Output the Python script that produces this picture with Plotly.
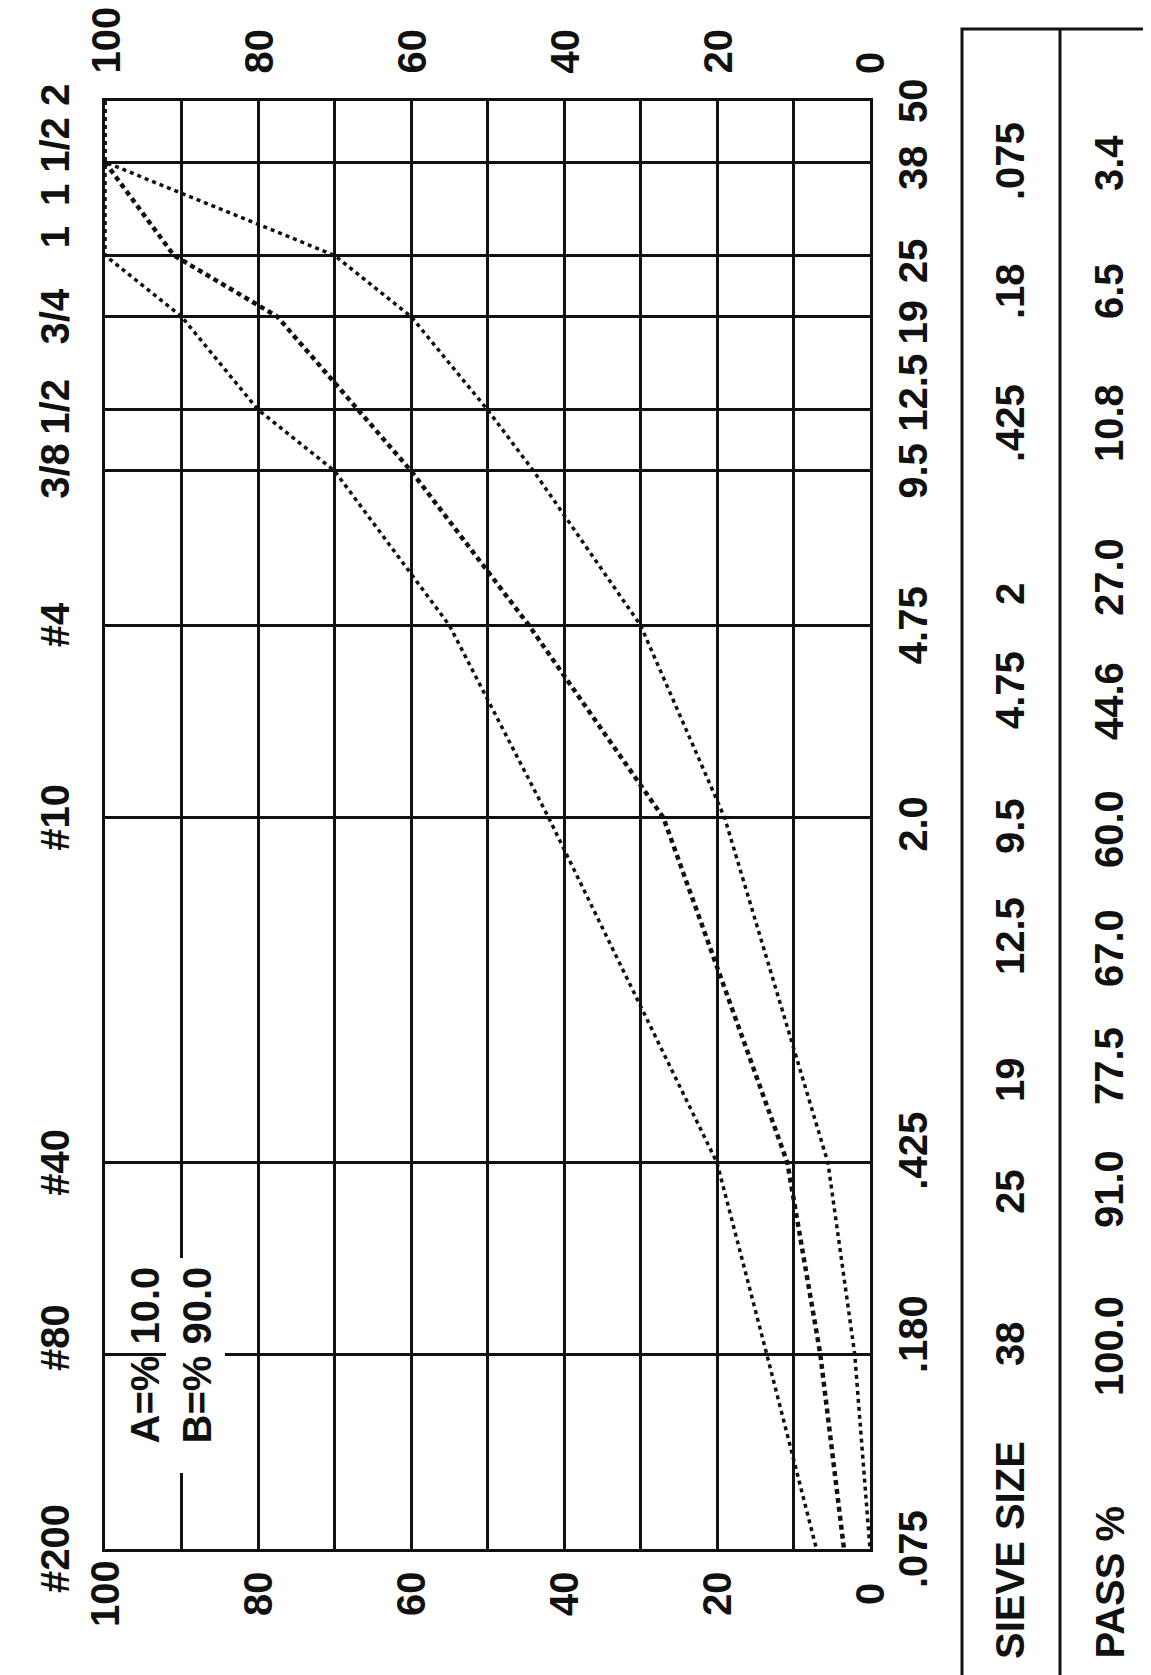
import math
import plotly.graph_objects as go

# ---------------- data ----------------
# sieve openings (mm) used for the chart grid, coarse -> fine
GRID_MM = [50, 38, 25, 19, 12.5, 9.5, 4.75, 2.0, 0.425, 0.18, 0.075]
GRID_LABEL_US = ["2", "1 1/2", "1", "3/4", "1/2", "3/8", "#4", "#10", "#40", "#80", "#200"]
GRID_LABEL_MM = ["50", "38", "25", "19", "12.5", "9.5", "4.75", "2.0", ".425", ".180", ".075"]

# combined gradation (table)
SIEVE_MM = [38, 25, 19, 12.5, 9.5, 4.75, 2.0, 0.425, 0.18, 0.075]
SIEVE_TEXT = ["38", "25", "19", "12.5", "9.5", "4.75", "2", ".425", ".18", ".075"]
PASS_PCT = [100.0, 91.0, 77.5, 67.0, 60.0, 44.6, 27.0, 10.8, 6.5, 3.4]

# specification band (on GRID_MM sieves)
UPPER_LIMIT = [100, 100, 100, 90, 80, 70, 55, 42, 20, 13.5, 7]
LOWER_LIMIT = [100, 100, 70, 60, 50, 44, 30, 19, 5.5, 2, 0]

PCT_TICKS = [100, 80, 60, 40, 20, 0]
BLEND_TEXT = ["A=% 10.0", "B=% 90.0"]

# ---------------- layout constants (pixels) ----------------
W, H = 1151, 1675
PLOT_L, PLOT_R, PLOT_T, PLOT_B = 97, 862, 93, 1541
TAB_L, TAB_M, TAB_R, TAB_T, TAB_B = 954, 1052, 1147, 21, 1673
LEFT_LABEL_X = 47
RIGHT_LABEL_X = 905
LEFT_LABEL_SHIFT = [6, 0, 18, 0, 3, 0, 0, 0, 0, 16, 0]
RIGHT_LABEL_SHIFT = [0, -6, -6, -6, 17, 0, 0, -6, 12, 20, 0]
TOP_LABEL_BASE = 68
BOTTOM_LABEL_MID = 1586
TAB_COL1_X, TAB_COL2_X = 1002, 1101
TAB_HEAD_BASE = 1653
TAB_SIEVE_Y = [1336, 1184, 1072, 928, 818, 682, 586, 415, 283, 153]
TAB_PASS_Y = [1338, 1181, 1058, 940, 821, 693, 569, 415, 283, 155]
BLEND_X = [136, 188]
BLEND_BASE = 1438
GAP_BOX = (158, 217, 1250, 1465)

FONT = "Liberation Sans, Arial, sans-serif"
FS = 40
INK = "#111111"


def px(x):
    return x / W


def py(y):
    return 1 - y / H


fig = go.Figure()

fig.add_trace(go.Scatter(
    x=UPPER_LIMIT, y=GRID_MM, mode="lines",
    line=dict(color=INK, width=3.5, dash="4px,4px"), showlegend=False, hoverinfo="skip"))
fig.add_trace(go.Scatter(
    x=LOWER_LIMIT, y=GRID_MM, mode="lines",
    line=dict(color=INK, width=3.5, dash="4px,4px"), showlegend=False, hoverinfo="skip"))
fig.add_trace(go.Scatter(
    x=PASS_PCT, y=SIEVE_MM, mode="lines",
    line=dict(color=INK, width=4.5, dash="5px,4px"), showlegend=False, hoverinfo="skip"))

annotations = []


def txt(text, **kw):
    d = dict(text="<b>%s</b>" % text, showarrow=False, textangle=-90,
             font=dict(family=FONT, size=FS, color=INK))
    d.update(kw)
    annotations.append(d)


# left (US sieve) labels and right (mm) labels
for mm, us, lab, sl, sr in zip(GRID_MM, GRID_LABEL_US, GRID_LABEL_MM,
                               LEFT_LABEL_SHIFT, RIGHT_LABEL_SHIFT):
    txt(us, xref="paper", x=px(LEFT_LABEL_X), yref="y", y=math.log10(mm),
        xanchor="center", yanchor="middle", yshift=sl)
    txt(lab, xref="paper", x=px(RIGHT_LABEL_X), yref="y", y=math.log10(mm),
        xanchor="center", yanchor="middle", yshift=sr)

# percent labels top & bottom
for p in PCT_TICKS:
    txt(str(p), xref="x", x=p, yref="paper", y=py(TOP_LABEL_BASE),
        xanchor="center", yanchor="bottom")
    txt(str(p), xref="x", x=p, yref="paper", y=py(BOTTOM_LABEL_MID),
        xanchor="center", yanchor="middle")

# blend proportions
for bx, bt in zip(BLEND_X, BLEND_TEXT):
    txt(bt, xref="paper", x=px(bx), yref="paper", y=py(BLEND_BASE),
        xanchor="center", yanchor="bottom")

# table
txt("SIEVE SIZE", xref="paper", x=px(TAB_COL1_X), yref="paper", y=py(TAB_HEAD_BASE),
    xanchor="center", yanchor="bottom")
txt("PASS %", xref="paper", x=px(TAB_COL2_X), yref="paper", y=py(TAB_HEAD_BASE),
    xanchor="center", yanchor="bottom")
for s, yy in zip(SIEVE_TEXT, TAB_SIEVE_Y):
    txt(s, xref="paper", x=px(TAB_COL1_X), yref="paper", y=py(yy),
        xanchor="center", yanchor="middle")
for p, yy in zip(PASS_PCT, TAB_PASS_Y):
    txt("%.1f" % p, xref="paper", x=px(TAB_COL2_X), yref="paper", y=py(yy),
        xanchor="center", yanchor="middle")

shapes = [
    # white gap behind blend text (hides grid lines there)
    dict(type="rect", xref="paper", yref="paper",
         x0=px(GAP_BOX[0]), x1=px(GAP_BOX[1]), y0=py(GAP_BOX[3]), y1=py(GAP_BOX[2]),
         fillcolor="white", line=dict(width=0), layer="above"),
    # table frame
    dict(type="rect", xref="paper", yref="paper",
         x0=px(TAB_L), x1=px(TAB_R), y0=py(TAB_B), y1=py(TAB_T),
         line=dict(color=INK, width=3), fillcolor="rgba(0,0,0,0)"),
    dict(type="line", xref="paper", yref="paper",
         x0=px(TAB_M), x1=px(TAB_M), y0=py(TAB_B), y1=py(TAB_T),
         line=dict(color=INK, width=3)),
]

fig.update_layout(
    width=W, height=H,
    margin=dict(l=0, r=0, t=0, b=0, autoexpand=False),
    paper_bgcolor="white", plot_bgcolor="white",
    showlegend=False,
    annotations=annotations,
    shapes=shapes,
    xaxis=dict(domain=[px(PLOT_L), px(PLOT_R)], range=[100, 0],
               tickvals=list(range(0, 101, 10)), showticklabels=False, ticks="",
               showgrid=True, gridcolor=INK, gridwidth=2.5, zeroline=False,
               showline=True, linecolor=INK, linewidth=3, mirror=True, fixedrange=True),
    yaxis=dict(domain=[py(PLOT_B), py(PLOT_T)], type="log",
               range=[math.log10(min(GRID_MM)), math.log10(max(GRID_MM))],
               tickvals=GRID_MM, showticklabels=False, ticks="",
               showgrid=True, gridcolor=INK, gridwidth=2.5, zeroline=False,
               showline=True, linecolor=INK, linewidth=3, mirror=True, fixedrange=True),
)

fig.write_html("out.html")
